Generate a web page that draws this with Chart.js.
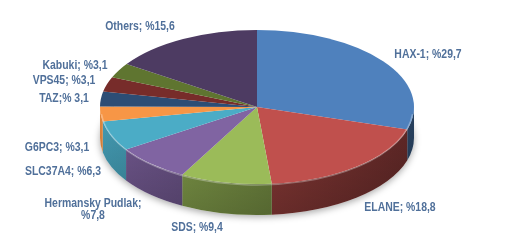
<!DOCTYPE html>
<html>
<head>
<meta charset="utf-8">
<script src="https://cdn.jsdelivr.net/npm/chart.js@4.4.1/dist/chart.umd.min.js"></script>
<style>
  html, body { margin: 0; padding: 0; background: #fff; }
  #wrap { width: 520px; height: 252px; }
</style>
</head>
<body>
<div id="wrap"><canvas id="pie" width="520" height="252"></canvas></div>
<script>
// data (clockwise from 12 o'clock)
const categories = ['HAX-1', 'ELANE', 'SDS', 'Hermansky Pudlak', 'SLC37A4', 'G6PC3', 'TAZ', 'VPS45', 'Kabuki', 'Others'];
const shares = [29.7, 18.8, 9.4, 7.8, 6.3, 3.1, 3.1, 3.1, 3.1, 15.6];
const labelTexts = ['HAX-1; %29,7', 'ELANE; %18,8', 'SDS; %9,4', ['Hermansky Pudlak;', '%7,8'],
                    'SLC37A4; %6,3', 'G6PC3; %3,1', 'TAZ;% 3,1', 'VPS45; %3,1', 'Kabuki; %3,1', 'Others; %15,6'];
const sliceColors = ['#4F81BD', '#C0504D', '#9BBB59', '#8064A2', '#4BACC6', '#F79646',
                     '#2C4D75', '#772C2A', '#5F7530', '#4D3B62'];

// layout: tilted pie on the page and the centre of each label block
const pieCX = 257, pieCY = 107, pieRX = 157, pieRY = 77, pieDepth = 31;
const labelAnchors = [[428, 55], [400, 208], [197, 228], [93, 210], [63, 172],
                      [57, 148], [64, 99], [64, 81], [75, 66], [140, 27]];
const labelColor = '#50709A';

function shade(hex, f) {
    const n = parseInt(hex.slice(1), 16);
    const r = Math.round(((n >> 16) & 255) * f);
    const g = Math.round(((n >> 8) & 255) * f);
    const b = Math.round((n & 255) * f);
    return 'rgb(' + r + ',' + g + ',' + b + ')';
}

const tiltPlugin = {
    id: 'tilt',
    beforeDatasetsDraw(chart) {
        const ctx = chart.ctx;
        const arcs = chart.getDatasetMeta(0).data;

        //soft shadow under the disc
        ctx.save();
        ctx.shadowColor = 'rgba(0,0,0,0.35)';
        ctx.shadowBlur = 7;
        ctx.shadowOffsetY = 2;
        ctx.fillStyle = '#fff';
        ctx.beginPath();
        ctx.ellipse(pieCX, pieCY + pieDepth, pieRX, pieRY, 0, 0, Math.PI * 2);
        ctx.fill();
        ctx.restore();

        //side walls, only the front half shows
        arcs.forEach((arc, i) => {
            const a1 = Math.max(arc.startAngle, 0);
            const a2 = Math.min(arc.endAngle, Math.PI);
            if (a2 <= a1) return;
            const grad = ctx.createLinearGradient(pieCX - pieRX, 0, pieCX + pieRX, 0);
            grad.addColorStop(0, shade(sliceColors[i], 0.92));
            grad.addColorStop(0.5, shade(sliceColors[i], 0.72));
            grad.addColorStop(1, shade(sliceColors[i], 0.5));
            ctx.beginPath();
            ctx.ellipse(pieCX, pieCY, pieRX, pieRY, 0, a1, a2);
            ctx.ellipse(pieCX, pieCY + pieDepth, pieRX, pieRY, 0, a2, a1, true);
            ctx.closePath();
            ctx.fillStyle = grad;
            ctx.fill();
        });
        //darken the walls toward the bottom
        const vg = ctx.createLinearGradient(0, pieCY, 0, pieCY + pieRY + pieDepth);
        vg.addColorStop(0, 'rgba(0,0,0,0)');
        vg.addColorStop(1, 'rgba(0,0,0,0.22)');
        ctx.beginPath();
        ctx.ellipse(pieCX, pieCY, pieRX, pieRY, 0, 0, Math.PI);
        ctx.ellipse(pieCX, pieCY + pieDepth, pieRX, pieRY, 0, Math.PI, 0, true);
        ctx.closePath();
        ctx.fillStyle = vg;
        ctx.fill();

        //squash the library's circle into the top ellipse
        const a0 = arcs[0];
        ctx.save();
        ctx.translate(pieCX, pieCY);
        ctx.scale(pieRX / a0.outerRadius, pieRY / a0.outerRadius);
        ctx.translate(-a0.x, -a0.y);
    },
    afterDatasetsDraw(chart) {
        const ctx = chart.ctx;
        ctx.restore();

        //light rim along the front edge
        ctx.save();
        ctx.strokeStyle = 'rgba(255,255,255,0.3)';
        ctx.lineWidth = 1.5;
        ctx.beginPath();
        ctx.ellipse(pieCX, pieCY + 1, pieRX - 1, pieRY, 0, 0.08, Math.PI - 0.08);
        ctx.stroke();
        ctx.restore();

        //labels
        ctx.save();
        ctx.fillStyle = labelColor;
        ctx.font = 'bold 12px "Liberation Sans", Arial, sans-serif';
        ctx.textAlign = 'center';
        ctx.textBaseline = 'middle';
        labelTexts.forEach((t, i) => {
            const lines = Array.isArray(t) ? t : [t];
            const [x, y] = labelAnchors[i];
            const lh = 12;
            lines.forEach((line, k) => {
                const ly = y + (k - (lines.length - 1) / 2) * lh;
                ctx.save();
                ctx.translate(x, ly);
                ctx.scale(0.87, 1);
                ctx.fillText(line, 0, 0);
                ctx.restore();
            });
        });
        ctx.restore();
    }
};

new Chart(document.getElementById('pie'), {
    type: 'pie',
    data: {
        labels: categories,
        datasets: [{
            data: shares,
            backgroundColor: sliceColors,
            borderWidth: 0,
            clip: false
        }]
    },
    options: {
        responsive: false,
        animation: false,
        events: [],
        layout: { padding: 0 },
        plugins: {
            legend: { display: false },
            tooltip: { enabled: false }
        }
    },
    plugins: [tiltPlugin]
});
</script>
</body>
</html>
